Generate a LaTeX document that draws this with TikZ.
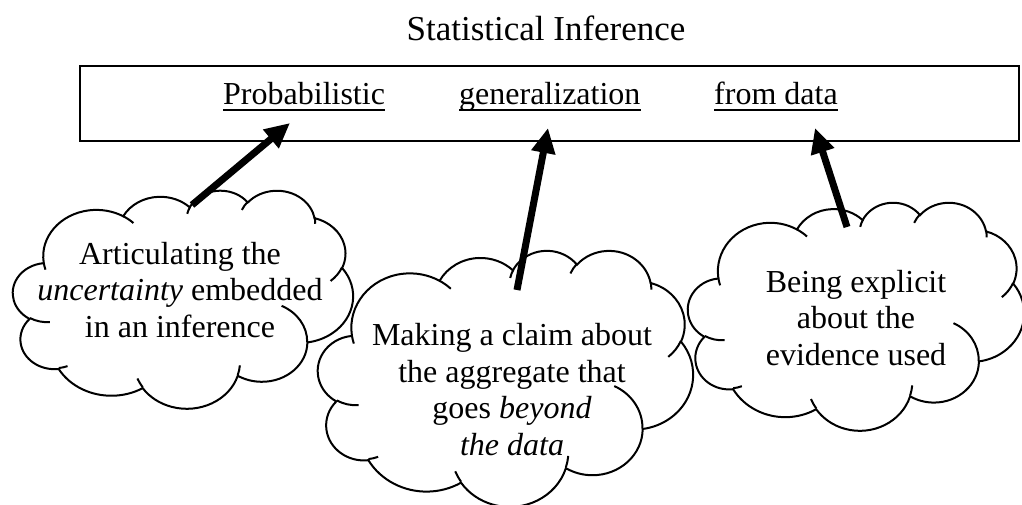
\documentclass[tikz,border=0pt]{standalone}
\usepackage{fontspec}
\setmainfont{Liberation Serif}
\usetikzlibrary{arrows.meta}

% one lobe of the cloud outline (angles as seen from the centre)
\newcommand\cloudarc[4]{arc[x radius=#1, y radius=#2,
  start angle={atan2(#1*sin(#3),#2*cos(#3))},
  delta angle={mod(atan2(#1*sin(#3+#4),#2*cos(#3+#4))-atan2(#1*sin(#3),#2*cos(#3))+720,360)}]}

% cloud in the box left, top, width, height
\newcommand\wordcloud[4]{%
  \pgfmathsetmacro\cloudw{#3/43.2}%
  \pgfmathsetmacro\cloudh{#4/43.2}%
  \begin{scope}[shift={(#1,#2)}, x=\cloudw pt, y=-\cloudh pt]
    \draw[cloudline, fill=white] (3.9,14.37)
      \cloudarc{6.753}{9.19}{-190.4875}{123.7805}
      \cloudarc{5.333}{7.267}{-144.1024}{89.9452}
      \cloudarc{4.365}{5.945}{-145.8079}{99.7230}
      \cloudarc{4.857}{6.595}{-130.9861}{117.2417}
      \cloudarc{5.333}{7.273}{-78.7089}{109.0269}
      \cloudarc{6.775}{9.22}{-46.2673}{130.2690}
      \cloudarc{5.785}{7.867}{0.6250}{114.0333}
      \cloudarc{6.752}{9.215}{22.4516}{115.1726}
      \cloudarc{7.72}{10.543}{66.2426}{75.7110}
      \cloudarc{4.36}{5.918}{-274.9421}{146.7356}
      \cloudarc{4.345}{5.945}{-246.8285}{152.5189} -- cycle;
    \draw[cloudline]
      (4.693,26.177) \cloudarc{4.345}{5.945}{86.7420}{26.4295}
      (6.928,34.899) \cloudarc{4.36}{5.918}{73.6105}{11.4475}
      (16.478,39.09) \cloudarc{6.752}{9.215}{137.6242}{14.0811}
      (28.827,34.751) \cloudarc{6.752}{9.215}{6.4533}{15.9984}
      (34.129,22.954) \cloudarc{5.785}{7.867}{-70.2924}{70.9174}
      (41.798,15.354) \cloudarc{5.333}{7.273}{30.3180}{27.7515}
      (38.324,5.426) \cloudarc{4.857}{6.595}{-13.7443}{14.8589}
      (29.078,3.952) \cloudarc{4.857}{6.595}{-149.1815}{18.1954}
      (22.141,4.72) \cloudarc{4.365}{5.945}{-163.4943}{17.6864}
      (14.0,5.192) \cloudarc{6.753}{9.19}{-66.7070}{12.3194}
      (4.127,15.789) \cloudarc{6.753}{9.19}{157.6544}{11.8582};
  \end{scope}}

\begin{document}
\begin{tikzpicture}[x=1pt, y=-1pt,
  every node/.style={font=\fontsize{32}{36.5}\selectfont},
  framebox/.style={draw, line width=2pt, minimum width=939pt, minimum height=75pt},
  word/.style={inner sep=0pt, anchor=base west},
  uline/.style={line width=2pt},
  cloudline/.style={line width=2pt},
  cloudtext/.style={align=center, inner sep=0pt, anchor=base},
  pointer/.style={line width=7pt, -{Triangle[length=25pt, width=23pt]}}]
\useasboundingbox (0,0) rectangle (1022,505);

\node[anchor=base, font=\fontsize{35}{40}\selectfont] (title) at (546,41) {Statistical Inference};
\node[framebox] (frame) at (549.5,103.5) {};
\node[word] (prob) at (223,105) {Probabilistic};
\node[word] (gen) at (459,105) {generalization};
\node[word] (data) at (714,105) {from data};
\foreach \w in {prob,gen,data}
  \draw[uline] ([yshift=-5.5pt]\w.base west) -- ([yshift=-5.5pt]\w.base east);

% clouds
\wordcloud{13}{190}{340}{218}
\wordcloud{688}{202}{336}{228}
\wordcloud{318}{250}{375}{256}

\node[cloudtext] (uncert) at (180,337) {Articulating the\\ \textit{uncertainty} embedded\\ in an inference};
\node[cloudtext] (beyond) at (512,455) {Making a claim about\\ the aggregate that\\ goes \textit{beyond}\\ \textit{the data}};
\node[cloudtext] (evid) at (856,365) {Being explicit\\ about the\\ evidence used};

% arrows
\coordinate (t1) at (192,205); \coordinate (h1) at (290,123);
\coordinate (t2) at (517,290); \coordinate (h2) at (548,128);
\coordinate (t3) at (847,227); \coordinate (h3) at (815,128);
\draw[pointer] (t1) -- (h1);
\draw[pointer] (t2) -- (h2);
\draw[pointer] (t3) -- (h3);
\end{tikzpicture}
\end{document}
